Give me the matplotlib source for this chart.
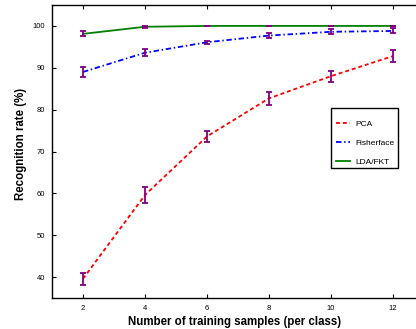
import matplotlib
matplotlib.use('Agg')
import matplotlib.pyplot as plt
from matplotlib.patches import Rectangle
import numpy as np

plt.rcParams['font.family'] = ['Liberation Sans', 'DejaVu Sans']

samples = [2, 4, 6, 8, 10, 12]
pca = [39.6, 59.6, 73.6, 82.7, 88.0, 92.8]
pca_err = [1.4, 2.0, 1.4, 1.5, 1.3, 1.5]
fisher = [89.0, 93.6, 96.1, 97.7, 98.6, 98.8]
fisher_err = [1.1, 0.8, 0.4, 0.6, 0.6, 0.6]
lda = [98.1, 99.8, 100.0, 100.0, 100.0, 100.0]
lda_err = [0.6, 0.2, 0.05, 0.05, 0.05, 0.05]

fig = plt.figure(figsize=(4.16, 3.29), dpi=100)
# axes run past the right edge, like the cropped original
ax = fig.add_axes([52/416, 1-298/329, (424-52)/416, (298-5)/329])

ax.plot(samples, pca, '--', color='red', lw=1.3, dashes=(2.2, 1.6), label='PCA')
ax.plot(samples, fisher, '-.', color='blue', lw=1.3, dashes=(3.0, 1.5, 0.8, 1.5),
        label='Fisherface')
ax.plot(samples, lda, '-', color='green', lw=1.3, label='LDA/FKT')
for y, e in [(pca, pca_err), (fisher, fisher_err), (lda, lda_err)]:
    ax.errorbar(samples, y, yerr=e, fmt='none', ecolor='purple',
                elinewidth=1.3, capsize=2.5, capthick=1.3)

ax.set_xlim(1, 13)
ax.set_ylim(35, 105)
ax.set_xticks(samples)
ax.set_yticks(range(40, 101, 10))
ax.tick_params(direction='in', top=True, right=True, labelsize=5.5,
               length=3, width=0.8, pad=5)
for s in ax.spines.values():
    s.set_linewidth(1.0)
ax.set_xlabel('Number of training samples (per class)', fontsize=8.3,
              fontweight='bold')
ax.set_ylabel('Recognition rate (%)', fontsize=8.3, fontweight='bold')
ax.xaxis.set_label_coords(0.49, -0.061)
ax.yaxis.set_label_coords(-0.067, 0.526)

# matlab-style legend: entries sit low in the box
leg = ax.legend(loc='center left', bbox_to_anchor=((336-52)/372, (298-143)/293),
                fontsize=6, frameon=False, handlelength=1.7, labelspacing=1.32,
                borderpad=0, handletextpad=0.6, borderaxespad=0)
ax.add_patch(Rectangle(((331-52)/372, (298-168)/293), 67/372, 60/293,
                       transform=ax.transAxes, fill=False, ec='black', lw=1.0,
                       zorder=5))

fig.savefig('out.png', dpi=100)
